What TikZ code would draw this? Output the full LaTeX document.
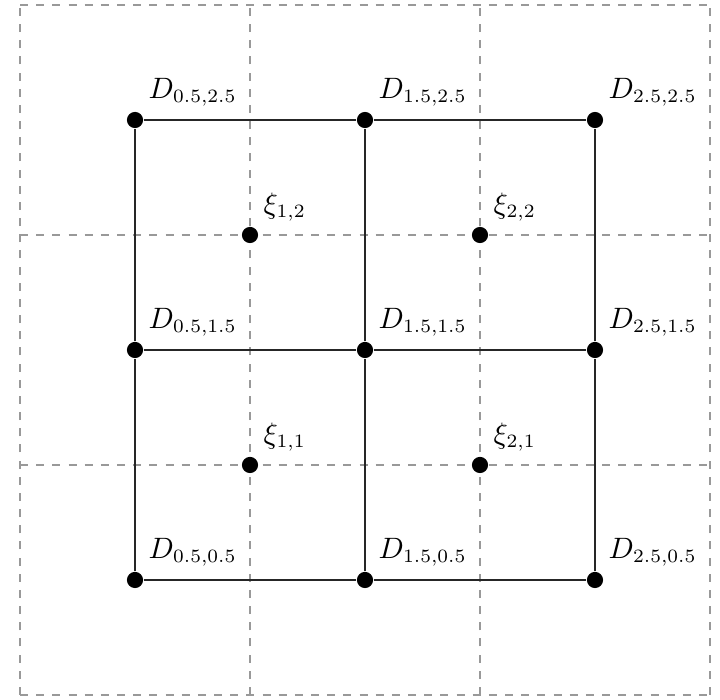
\documentclass[tikz,border=0pt]{standalone}
\begin{document}
\begin{tikzpicture}[x=3cm,y=3cm,
  font=\fontsize{10.7}{13}\selectfont,
  pt/.style={circle,fill=black,inner sep=0pt,minimum size=6pt},
  gridline/.style={dashed,gray!80,line width=0.5pt},
  edge/.style={black!85,line width=0.5pt}]
\useasboundingbox (-0.087,-0.0217) rectangle (3.0435,3.0217);
\draw[gridline,step=3cm] (0,0) grid (3,3);
% D nodes
\foreach \i/\a in {0/0.5,1/1.5,2/2.5}{
  \foreach \j/\b in {0/0.5,1/1.5,2/2.5}{
    \node[pt,label={[label distance=-1pt]above right:$D_{\a,\b}$}] (d\i\j) at (\a,\b) {};
  }
}
% edges
\foreach \i in {0,1,2}{
  \draw[edge] (d0\i) -- (d1\i) -- (d2\i);
  \draw[edge] (d\i0) -- (d\i1) -- (d\i2);
}
% xi nodes
\foreach \i in {1,2}{
  \foreach \j in {1,2}{
    \node[pt,label={[label distance=-1pt]above right:$\xi_{\i,\j}$}] (x\i\j) at (\i,\j) {};
  }
}
\end{tikzpicture}
\end{document}
